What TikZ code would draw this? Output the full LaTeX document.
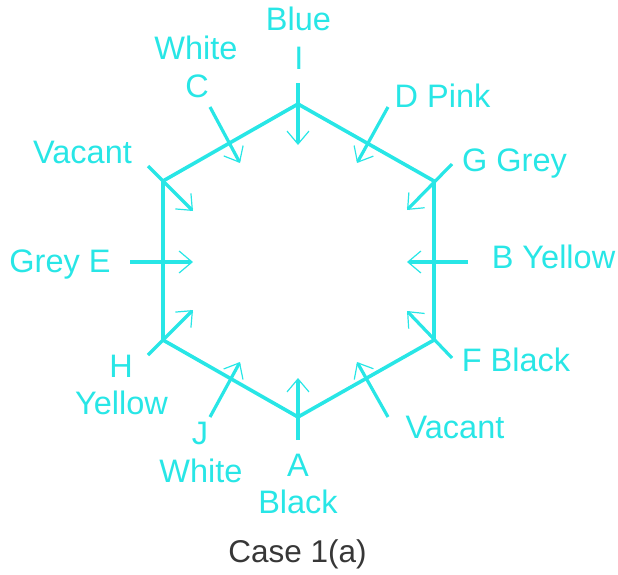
\documentclass[tikz,border=0pt]{standalone}
\usepackage{fontspec}
\setmainfont{Liberation Sans}
\usetikzlibrary{arrows.meta}
\definecolor{cy}{RGB}{40,230,230}
\definecolor{capgray}{RGB}{55,55,55}
\begin{document}
\begin{tikzpicture}[x=1pt,y=-1pt,
  lbl/.style={anchor=base,inner sep=0pt,text=cy,font=\fontsize{32.5}{38}\selectfont},
  hexline/.style={draw=cy,line width=3.6pt,line join=miter},
  inarrow/.style={draw=cy,line width=3.2pt,-{Straight Barb[length=13pt,width=22pt,line width=1.2pt]}}]
\useasboundingbox (0,0) rectangle (618,574);
% hexagon vertices
\coordinate (vT) at (298,104);
\coordinate (vUR) at (434,181);
\coordinate (vLR) at (434,340);
\coordinate (vB) at (298,417);
\coordinate (vLL) at (163,340);
\coordinate (vUL) at (163,181);
\draw[hexline] (vT) -- (vUR) -- (vLR) -- (vB) -- (vLL) -- (vUL) -- cycle;
% arrow ends
\coordinate (s1) at (298,83);  \coordinate (t1) at (298,145);
\coordinate (s2) at (452,164); \coordinate (t2) at (407,210);
\coordinate (s3) at (468,262); \coordinate (t3) at (407,262);
\coordinate (s4) at (452,358); \coordinate (t4) at (407,311);
\coordinate (s5) at (388,417); \coordinate (t5) at (357,362);
\coordinate (s6) at (298,440); \coordinate (t6) at (298,378);
\coordinate (s7) at (210,417); \coordinate (t7) at (240,362);
\coordinate (s8) at (148,355); \coordinate (t8) at (193,310);
\coordinate (s9) at (130,262); \coordinate (t9) at (193,262);
\coordinate (s10) at (148,166); \coordinate (t10) at (193,211);
\coordinate (s11) at (210,107); \coordinate (t11) at (240,163);
\coordinate (s12) at (388,107); \coordinate (t12) at (357,163);
\foreach \i in {1,...,12} {\draw[inarrow] (s\i) -- (t\i);}
% labels
\node[lbl] (blue) at (298.5,30) {Blue};
\node[lbl] (iI) at (299,69) {I};
\node[lbl] (whiteT) at (196,59) {White};
\node[lbl] (cC) at (197,97) {C};
\node[lbl] (dpink) at (442.5,107) {D Pink};
\node[lbl] (ggrey) at (514.5,171) {G Grey};
\node[lbl] (vacL) at (82.5,163) {Vacant};
\node[lbl] (greyE) at (60,272) {Grey E};
\node[lbl] (byellow) at (553.5,268) {B Yellow};
\node[lbl] (hH) at (121,377) {H};
\node[lbl] (yellowL) at (121.5,414) {Yellow};
\node[lbl] (fblack) at (516,371) {F Black};
\node[lbl] (vacR) at (455,438) {Vacant};
\node[lbl] (jJ) at (200,444) {J};
\node[lbl] (whiteB) at (201,482) {White};
\node[lbl] (aA) at (298,476) {A};
\node[lbl] (blackB) at (298,513) {Black};
\node[lbl,text=capgray,font=\fontsize{31.5}{37}\selectfont] (caption) at (297.5,562) {Case 1(a)};
\end{tikzpicture}
\end{document}
